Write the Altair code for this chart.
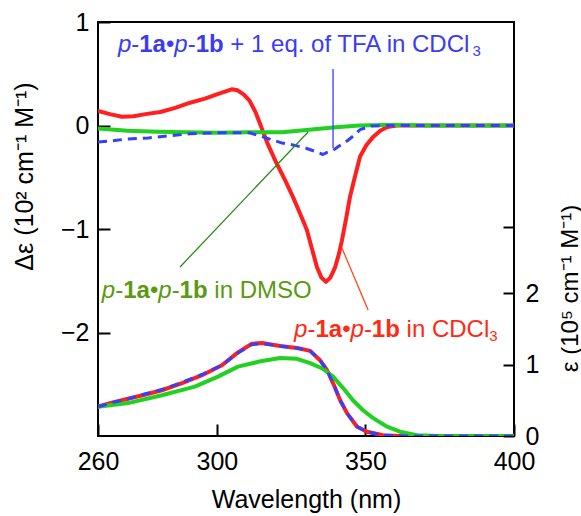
import altair as alt
import pandas as pd

# ---------------- data ----------------
# CD spectra, Δε (10^2 cm^-1 M^-1)
cd_red_nm = [260, 264, 268, 272, 276, 281, 286, 291, 296, 300, 303, 305, 307, 309, 311, 313,
             314.5, 317, 320, 323, 325.6, 328, 330.3, 332, 333.7, 335.2, 336.7, 338.2, 339.8,
             341, 342.1, 343.5, 344.8, 346.5, 348.2, 350.3, 352.6, 355, 357.3, 360.6, 370, 380, 390, 400]
cd_red_de = [0.14, 0.11, 0.085, 0.09, 0.11, 0.13, 0.17, 0.22, 0.26, 0.30, 0.33, 0.35, 0.34, 0.30, 0.24, 0.13,
             0.02, -0.17, -0.36, -0.53, -0.69, -0.85, -1.01, -1.19, -1.37, -1.47, -1.51, -1.47, -1.37,
             -1.25, -1.11, -0.90, -0.69, -0.49, -0.30, -0.19, -0.11, -0.05, -0.014, 0.0, 0.0, 0.0, 0.0, 0.0]

cd_green_nm = [260, 270, 280, 290, 300, 311, 322, 331, 339, 348, 356, 362, 370, 380, 390, 400]
cd_green_de = [-0.03, -0.05, -0.06, -0.065, -0.07, -0.065, -0.065, -0.04, -0.02, 0.0, 0.005, 0.005, 0.0, 0.0, 0.0, 0.0]

cd_blue_nm = [260, 264, 270, 277, 284, 291, 300, 309, 311, 315.5, 322, 326, 330, 333, 335.7, 337.1,
              339.1, 341, 343.8, 346, 348.2, 352, 356, 365, 380, 400]
cd_blue_de = [-0.16, -0.15, -0.13, -0.12, -0.10, -0.08, -0.07, -0.07, -0.07, -0.11, -0.17, -0.19, -0.22, -0.25, -0.28, -0.26,
              -0.24, -0.20, -0.15, -0.10, -0.04, -0.005, 0.0, 0.0, 0.0, 0.0]

# UV spectra, ε (10^5 cm^-1 M^-1)
uv_red_nm = [260, 265, 270.1, 276, 281.5, 288.3, 295, 301.7, 307.1, 311.8, 315.2, 321.3, 327, 331.4,
             334.7, 337.1, 339.1, 341.5, 343.8, 347.2, 350.5, 355.9, 361.6, 380, 400]
uv_red_eps = [0.41, 0.47, 0.52, 0.58, 0.64, 0.74, 0.85, 0.99, 1.17, 1.29, 1.30, 1.26, 1.23, 1.19,
              1.06, 0.92, 0.74, 0.50, 0.32, 0.13, 0.06, 0.01, 0.0, 0.0, 0.0]

uv_blue_nm = [260, 265, 270.1, 276, 281.5, 288.3, 295, 301.7, 307.1, 311.8, 315.2, 321.3, 327, 331.4,
              334.7, 337.1, 339.1, 341.5, 343.8, 347.2, 350.5, 355.9, 361.6, 380, 400]
uv_blue_eps = [0.41, 0.47, 0.52, 0.59, 0.65, 0.75, 0.86, 0.99, 1.16, 1.28, 1.29, 1.26, 1.23, 1.19,
               1.06, 0.92, 0.74, 0.50, 0.32, 0.13, 0.06, 0.01, 0.0, 0.0, 0.0]

uv_green_nm = [260, 270.1, 281.5, 292.6, 300.4, 307.1, 315.2, 321.3, 327, 331.4, 335.7, 339.1, 342.5,
               345.8, 349.2, 352.6, 357.3, 361.6, 367.4, 375.1, 390, 400]
uv_green_eps = [0.41, 0.46, 0.57, 0.69, 0.83, 0.97, 1.05, 1.09, 1.08, 1.02, 0.94, 0.83, 0.67,
                0.50, 0.36, 0.25, 0.13, 0.06, 0.01, 0.0, 0.0, 0.0]

# axes
x_ticks = [260, 300, 350, 400]
cd_ticks = [-2, -1, 0, 1]
uv_ticks = [0, 1, 2, 2.92]

# annotations
ann_names = ["blue", "green", "red"]
ann_rest = ["+ 1 eq. of TFA in CDCl", "in DMSO", "in CDCl"]
ann_sub = ["3", "", "3"]
ann_nm = [266.7, 261.3, 326.0]
ann_de = [0.71, -1.667, -2.043]
ann_colors = ["#3b3bf5", "#5a9a12", "#ff2a14"]

# leader lines (start nm, start Δε, end nm, end Δε)
lead_x1 = [339.1, 287.6, 342.1]
lead_y1 = [0.546, -1.367, -1.184]
lead_x2 = [339.1, 330.7, 350.9]
lead_y2 = [-0.217, -0.063, -1.783]
lead_colors = ["#3a3aff", "#2a8c1a", "#ff4a1a"]

# ---------------- styling ----------------
FONT = "Liberation Sans"
FS = 24
SUB_FS = 15
PW, PH = 416, 414
X_DOM = [260, 400]
PX_PER_NM = PW / (X_DOM[1] - X_DOM[0])

RED, GREEN, BLUE = "#ff1f1f", "#22d022", "#3340ff"

REG_W = {'p': 0.556, '-': 0.333, '\u2022': 0.35, ' ': 0.278, '+': 0.584, '1': 0.556,
         'e': 0.556, 'q': 0.556, '.': 0.278, 'o': 0.556, 'f': 0.278, 'T': 0.611, 'F': 0.611, 'A': 0.667,
         'i': 0.222, 'n': 0.556, 'C': 0.722, 'D': 0.722, 'l': 0.222, 'M': 0.833, 'S': 0.667, 'O': 0.778}
BOLD_W = {'1': 0.556, 'a': 0.556, 'b': 0.611}
SPACE = 0.278 * FS


def width(s, style):
    table = BOLD_W if style == "bold" else REG_W
    return sum(table.get(c, 0.556) for c in s) * FS


rows = []
for name, rest, sub, nm0, de0, col in zip(ann_names, ann_rest, ann_sub, ann_nm, ann_de, ann_colors):
    segs = [("p", "it", 0), ("-", "reg", 0), ("1a", "bold", 0), ("\u2022", "reg", 0), ("p", "it", 0),
            ("-", "reg", 0), ("1b", "bold", 0), (rest, "reg", SPACE)]
    if sub:
        segs.append((sub, "sub", 0))
    cum = 0.0
    for txt, style, gap in segs:
        cum += gap
        rows.append(dict(label=name, text=txt, style=style, nm=nm0 + cum / PX_PER_NM, de=de0, color=col))
        cum += width(txt, style)
ann_df = pd.DataFrame(rows)

lead_df = pd.DataFrame(dict(x1=lead_x1, y1=lead_y1, x2=lead_x2, y2=lead_y2, color=lead_colors))

x_axis = alt.Axis(values=x_ticks, title="Wavelength (nm)", offset=-12, tickSize=12, tickWidth=2,
                  tickColor="black", domain=False, grid=False, labelFont=FONT, labelFontSize=25,
                  labelColor="black", labelPadding=13, labelFlush=False, labelOverlap=False, format="d",
                  titleFont=FONT, titleFontSize=25, titleFontWeight="normal", titleColor="black",
                  titlePadding=13)
cd_axis = alt.Axis(values=cd_ticks, orient="left", offset=-12, tickSize=12, tickWidth=2,
                   tickColor="black", domain=False, grid=False, labelFont=FONT, labelFontSize=25,
                   labelColor="black", labelPadding=9, labelFlush=False, labelOverlap=False, format="d",
                   title="\u0394\u03b5 (10\u00b2 cm\u207b\u00b9 M\u207b\u00b9)", titleFont=FONT,
                   titleFontSize=25, titleFontWeight="normal", titleColor="black", titleAngle=270,
                   titleX=-86, titleY=154, titleAlign="center", titleBaseline="middle")
uv_axis = alt.Axis(values=uv_ticks, orient="right", offset=-11, tickSize=11, tickWidth=2,
                   tickColor="black", domain=False, grid=False, labelFont=FONT, labelFontSize=25,
                   labelColor="black", labelPadding=11, labelFlush=False, labelOverlap=False, format="d",
                   labelExpr="datum.value <= 2 ? datum.label : ''",
                   title="\u03b5 (10\u2075 cm\u207b\u00b9 M\u207b\u00b9)", titleFont=FONT,
                   titleFontSize=24, titleFontWeight="normal", titleColor="black", titleAngle=270,
                   titleX=67, titleY=266, titleAlign="center", titleBaseline="middle")

xs = alt.Scale(domain=X_DOM, nice=False, zero=False)
cd_scale = alt.Scale(domain=[-3, 1], nice=False, zero=False)
uv_scale = alt.Scale(domain=[0, PH / 71.5], nice=False, zero=False)


def curve(nm, vals, color, sw, scale, axis_y, dash=None):
    df = pd.DataFrame(dict(nm=nm, v=vals))
    kw = dict(color=color, strokeWidth=sw, clip=True, strokeCap="round", strokeJoin="round")
    if dash:
        kw["strokeDash"] = dash
        kw["strokeCap"] = "butt"
    return alt.Chart(df).mark_line(**kw).encode(
        x=alt.X("nm:Q", scale=xs, axis=x_axis),
        y=alt.Y("v:Q", scale=scale, axis=axis_y),
    )


cd_red = curve(cd_red_nm, cd_red_de, RED, 4, cd_scale, cd_axis)
cd_green = curve(cd_green_nm, cd_green_de, GREEN, 4, cd_scale, cd_axis)
cd_blue = curve(cd_blue_nm, cd_blue_de, BLUE, 3, cd_scale, cd_axis, dash=[9, 6])

leaders = alt.Chart(lead_df).mark_rule(strokeWidth=1.3).encode(
    x=alt.X("x1:Q", scale=xs, axis=x_axis), y=alt.Y("y1:Q", scale=cd_scale, axis=cd_axis),
    x2="x2:Q", y2="y2:Q", color=alt.Color("color:N", scale=None),
)


def text_layer(style, **kw):
    base = dict(font=FONT, fontSize=FS, align="left", baseline="alphabetic")
    base.update(kw)
    return alt.Chart(ann_df).transform_filter(alt.datum.style == style).mark_text(**base).encode(
        x=alt.X("nm:Q", scale=xs, axis=x_axis), y=alt.Y("de:Q", scale=cd_scale, axis=cd_axis),
        text="text:N", color=alt.Color("color:N", scale=None),
    )


t_it = text_layer("it", fontStyle="italic")
t_reg = text_layer("reg")
t_bold = text_layer("bold", fontWeight="bold")
t_sub = text_layer("sub", fontSize=SUB_FS, dy=4)

cd = alt.layer(cd_red, cd_green, cd_blue, leaders, t_it, t_reg, t_bold, t_sub)

uv_red = curve(uv_red_nm, uv_red_eps, RED, 4, uv_scale, uv_axis)
uv_green = curve(uv_green_nm, uv_green_eps, GREEN, 4, uv_scale, uv_axis)
uv_blue = curve(uv_blue_nm, uv_blue_eps, BLUE, 3, uv_scale, uv_axis, dash=[9, 6])
uv = alt.layer(uv_red, uv_green, uv_blue)

chart = alt.layer(cd, uv).resolve_scale(y="independent").properties(
    width=PW, height=PH,
    autosize=alt.AutoSizeParams(type="none"),
    padding={"left": 98, "top": 22, "right": 67, "bottom": 80},
    background="white",
).configure_view(stroke="black", strokeWidth=2)

chart.save("out.html", embed_options={"renderer": "svg", "actions": False})
